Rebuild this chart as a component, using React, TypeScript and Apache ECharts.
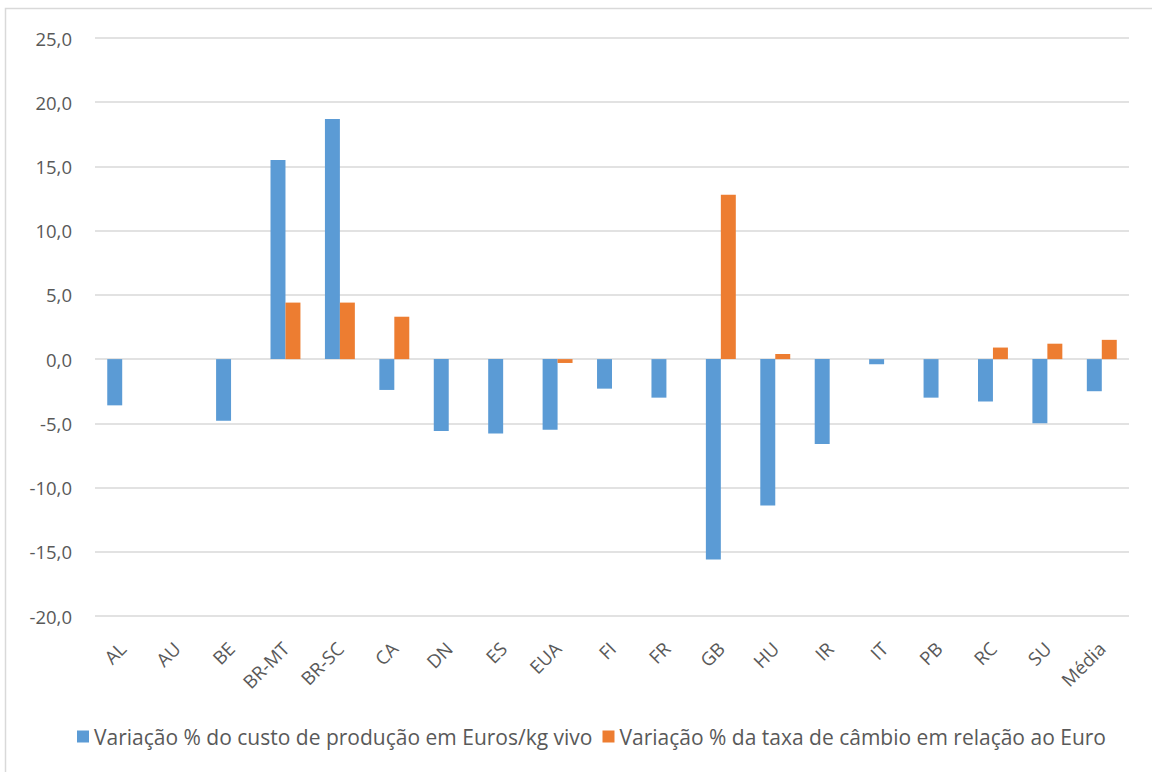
import React, { useEffect, useRef } from "react";
import * as echarts from "echarts";

const categories = ["AL", "AU", "BE", "BR-MT", "BR-SC", "CA", "DN", "ES", "EUA", "FI", "FR", "GB", "HU", "IR", "IT", "PB", "RC", "SU", "Média"];
const custoProducao = [-3.6, 0, -4.8, 15.5, 18.7, -2.4, -5.6, -5.8, -5.5, -2.3, -3.0, -15.6, -11.4, -6.6, -0.4, -3.0, -3.3, -5.0, -2.5];
const taxaCambio = [0, 0, 0, 4.4, 4.4, 3.3, 0, 0, -0.3, 0, 0, 12.8, 0.4, 0, 0, 0, 0.9, 1.2, 1.5];
const seriesNames = [
  "Variação % do custo de produção em Euros/kg vivo",
  "Variação % da taxa de câmbio em relação ao Euro",
];
const yTicks = { min: -20, max: 25, interval: 5 };

export default function App() {
  const ref = useRef<HTMLDivElement>(null);
  useEffect(() => {
    if (!ref.current) return;
    const chart = echarts.init(ref.current, null, { renderer: "svg" });
    const font = "Open Sans";
    chart.setOption({
      animation: false,
      backgroundColor: "#ffffff",
      textStyle: { fontFamily: font },
      graphic: [
        {
          type: "rect",
          shape: { x: 5.5, y: 8.5, width: 1200, height: 800 },
          style: { fill: "none", stroke: "#d9d9d9", lineWidth: 1.5 },
          silent: true,
        },
      ],
      grid: { left: 95, right: 23, top: 38, bottom: 156, containLabel: false },
      legend: {
        bottom: 20,
        left: 72,
        itemWidth: 12,
        itemHeight: 12,
        itemGap: 10,
        icon: "rect",
        textStyle: { color: "#595959", fontSize: 21, fontFamily: font },
        data: seriesNames,
      },
      xAxis: {
        type: "category",
        data: categories,
        axisLine: { show: false },
        axisTick: { show: false },
        axisLabel: {
          rotate: 45,
          interval: 0,
          color: "#595959",
          fontSize: 18.5,
          margin: 29,
          fontFamily: font,
        },
      },
      yAxis: {
        type: "value",
        min: yTicks.min,
        max: yTicks.max,
        interval: yTicks.interval,
        axisLine: { show: false },
        axisTick: { show: false },
        splitLine: { lineStyle: { color: "#d9d9d9", width: 1.5 } },
        axisLabel: {
          color: "#595959",
          fontSize: 18.5,
          margin: 23,
          fontFamily: font,
          formatter: (v: number) => v.toFixed(1).replace(".", ","),
        },
      },
      series: [
        {
          name: seriesNames[0],
          type: "bar",
          data: custoProducao,
          barGap: "0%",
          barCategoryGap: "45%",
          itemStyle: { color: "#5b9bd5" },
        },
        {
          name: seriesNames[1],
          type: "bar",
          data: taxaCambio,
          itemStyle: { color: "#ed7d31" },
        },
      ],
    });
    return () => chart.dispose();
  }, []);
  return (
    <div
      ref={ref}
      style={{ position: "fixed", left: 0, top: 0, width: 1152, height: 772 }}
    />
  );
}
